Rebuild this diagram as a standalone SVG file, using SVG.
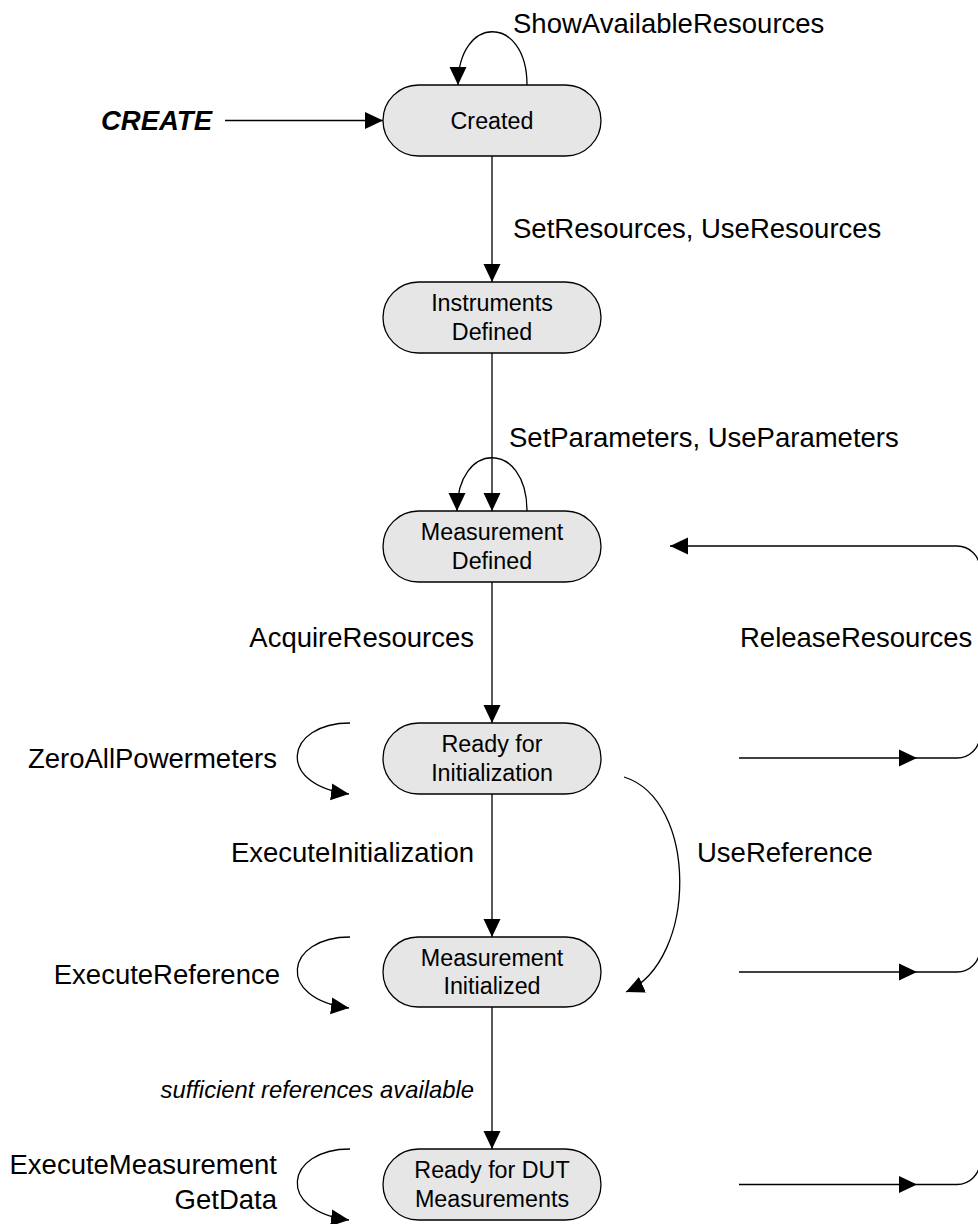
<svg xmlns="http://www.w3.org/2000/svg" width="978" height="1224" viewBox="0 0 978 1224">
<style>
.node rect{fill:#e6e6e6;stroke:#000;stroke-width:1.3}
.node text{font-family:"Liberation Sans",Arial,sans-serif;font-size:23.3px;text-anchor:middle;fill:#000}
.lbl{font-family:"Liberation Sans",Arial,sans-serif;font-size:27.5px;fill:#000}
.it{font-family:"Liberation Sans",Arial,sans-serif;font-size:23.8px;font-style:italic;fill:#000}
#connectors path{fill:none;stroke:#000;stroke-width:1.3}
</style>
<defs>
<marker id="ah" markerUnits="userSpaceOnUse" markerWidth="18" markerHeight="18" refX="18" refY="9" orient="auto">
<path d="M0,0.5 L18,9 L0,17.5 z" fill="#000"/>
</marker>
</defs>
<g id="connectors">
<path d="M225,120.5 H383" marker-end="url(#ah)"/>
<path d="M527,85 C527,14 458,14 458,85" marker-end="url(#ah)"/>
<path d="M492,156 V282" marker-end="url(#ah)"/>
<path d="M492,353 V511" marker-end="url(#ah)"/>
<path d="M527,511 C527,440 457,440 457,511" marker-end="url(#ah)"/>
<path d="M492,582 V723" marker-end="url(#ah)"/>
<path d="M492,794 V937" marker-end="url(#ah)"/>
<path d="M492,1007 V1149" marker-end="url(#ah)"/>
<path d="M624,777 C698,800 698,960 626,992" marker-end="url(#ah)"/>
<path d="M350,723 C285,723 275,785 349,794" marker-end="url(#ah)"/>
<path d="M350,937 C285,937 275,999 349,1008" marker-end="url(#ah)"/>
<path d="M350,1149 C285,1149 275,1211 349,1220" marker-end="url(#ah)"/>
<path d="M980,569 A23,23 0 0 0 957,546 H670" marker-end="url(#ah)"/>
<path d="M980,569 V1161"/>
<path d="M739,758 H917" marker-end="url(#ah)"/>
<path d="M917,758 H957 A23,23 0 0 0 980,735"/>
<path d="M739,972 H917" marker-end="url(#ah)"/>
<path d="M917,972 H957 A23,23 0 0 0 980,949"/>
<path d="M739,1184.5 H917" marker-end="url(#ah)"/>
<path d="M917,1184.5 H957 A23,23 0 0 0 980,1161.5"/>
</g>
<g id="labels">
<text class="lbl" x="513" y="33">ShowAvailableResources</text>
<text class="lbl" x="212" y="130" text-anchor="end" font-weight="bold" font-style="italic">CREATE</text>
<text class="lbl" x="513" y="238">SetResources, UseResources</text>
<text class="lbl" x="509" y="447">SetParameters, UseParameters</text>
<text class="lbl" x="474" y="647" text-anchor="end">AcquireResources</text>
<text class="lbl" x="740" y="647">ReleaseResources</text>
<text class="lbl" x="277" y="768" text-anchor="end">ZeroAllPowermeters</text>
<text class="lbl" x="474" y="862" text-anchor="end">ExecuteInitialization</text>
<text class="lbl" x="697" y="862">UseReference</text>
<text class="lbl" x="280" y="984" text-anchor="end">ExecuteReference</text>
<text class="it" x="474" y="1098" text-anchor="end">sufficient references available</text>
<text class="lbl" x="277" y="1174" text-anchor="end">ExecuteMeasurement</text>
<text class="lbl" x="277" y="1209" text-anchor="end">GetData</text>
</g>
<g id="created" class="node"><rect x="383" y="85" width="218" height="71" rx="35.5"/><text x="492" y="128.5">Created</text></g>
<g id="instruments-defined" class="node"><rect x="383" y="282" width="218" height="71" rx="35.5"/><text x="492" y="311">Instruments</text><text x="492" y="339.5">Defined</text></g>
<g id="measurement-defined" class="node"><rect x="383" y="511" width="218" height="71" rx="35.5"/><text x="492" y="540">Measurement</text><text x="492" y="568.5">Defined</text></g>
<g id="ready-init" class="node"><rect x="383" y="723" width="218" height="71" rx="35.5"/><text x="492" y="752">Ready for</text><text x="492" y="780.5">Initialization</text></g>
<g id="measurement-initialized" class="node"><rect x="383" y="937" width="218" height="70" rx="35"/><text x="492" y="965.5">Measurement</text><text x="492" y="994">Initialized</text></g>
<g id="ready-dut" class="node"><rect x="383" y="1149" width="218" height="71" rx="35.5"/><text x="492" y="1178">Ready for DUT</text><text x="492" y="1206.5">Measurements</text></g>
</svg>
